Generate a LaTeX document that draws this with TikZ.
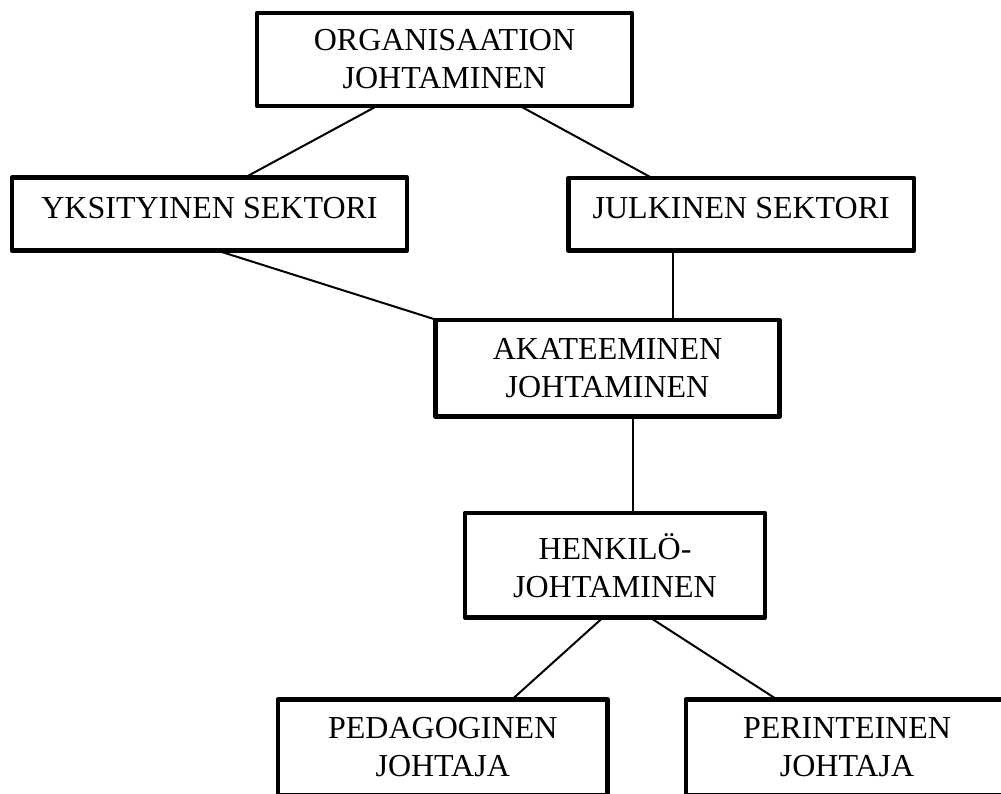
\documentclass[tikz,border=0pt]{standalone}
\usepackage{fontspec}
\setmainfont{Liberation Serif}
\begin{document}
\begin{tikzpicture}[x=1pt,y=-1pt,
  box/.style={draw, line width=4.3pt, line join=round, rectangle, inner sep=0pt, outer sep=0pt, align=center,
    font=\fontsize{32}{38}\selectfont},
  oneline/.style={text depth=13pt},
  link/.style={line width=2pt}]
\useasboundingbox (0,0) rectangle (1001,794);
\fill[white] (0,0) rectangle (1001,794);
\clip (0,0) rectangle (1001,794);
\node[box, minimum width=375pt, minimum height=93pt] (org) at (444.5,59.5) {ORGANISAATION\\JOHTAMINEN};
\node[box, oneline, minimum width=395pt, minimum height=73pt] (yks) at (209.5,214) {YKSITYINEN SEKTORI};
\node[box, oneline, minimum width=345.5pt, minimum height=72.5pt] (julk) at (741.25,214.25) {JULKINEN SEKTORI};
\node[box, minimum width=344pt, minimum height=96.5pt] (akat) at (607.5,368.25) {AKATEEMINEN\\JOHTAMINEN};
\node[box, minimum width=300pt, minimum height=104.5pt] (henk) at (615,565.25) {HENKILÖ-\\JOHTAMINEN};
\node[box, minimum width=329.5pt, minimum height=95.8pt] (ped) at (442.75,747.4) {PEDAGOGINEN\\JOHTAJA};
\node[box, minimum width=322pt, minimum height=95.8pt] (per) at (847,747.4) {PERINTEINEN\\JOHTAJA};
\draw[link] ([xshift=-67.5pt]org.south) -- ([xshift=35.5pt]yks.north);
\draw[link] ([xshift=75.5pt]org.south) -- ([xshift=-89.25pt]julk.north);
\draw[link] ([xshift=7.5pt]yks.south) -- ([xshift=1.5pt]akat.north west);
\draw[link] ([xshift=-68.25pt]julk.south) -- ([xshift=65.5pt]akat.north);
\draw[link] ([xshift=25.5pt]akat.south) -- ([xshift=18pt]henk.north);
\draw[link] ([xshift=-12pt]henk.south) -- ([xshift=69.25pt]ped.north);
\draw[link] ([xshift=35pt]henk.south) -- ([xshift=-70pt]per.north);
\end{tikzpicture}
\end{document}
